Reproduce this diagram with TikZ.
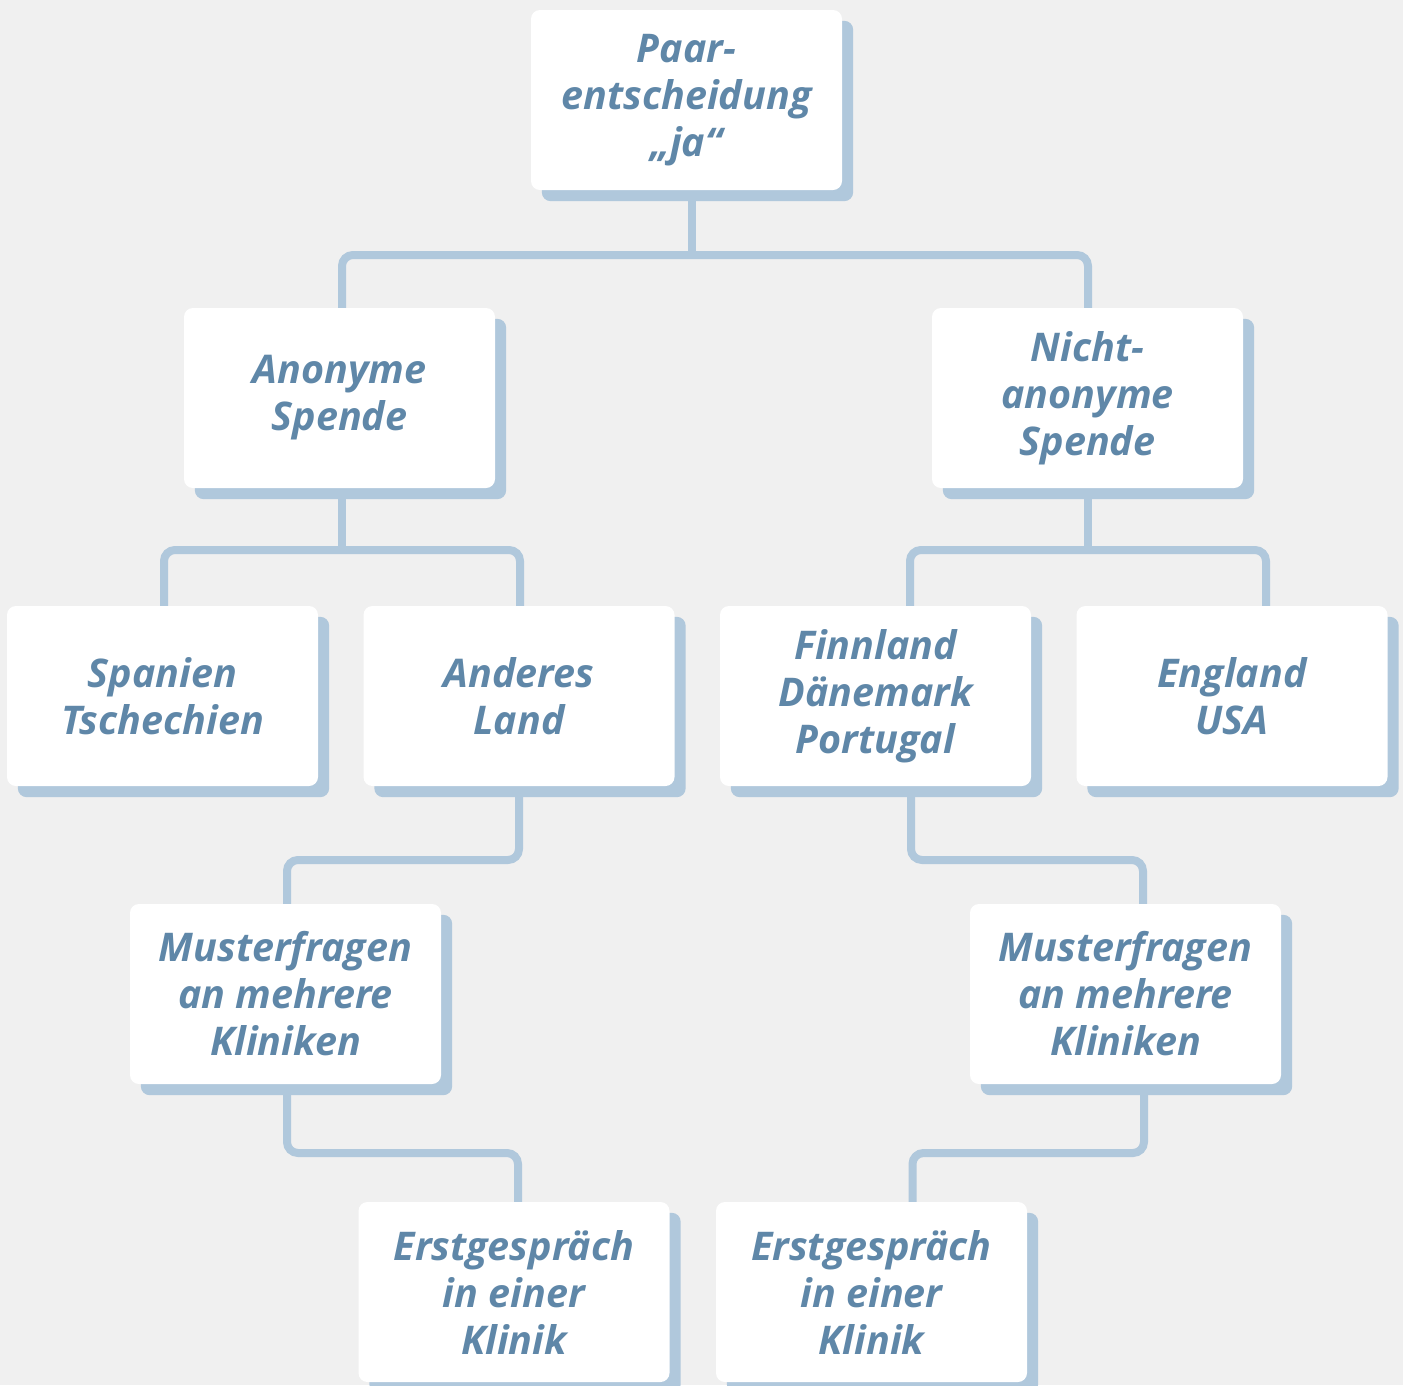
\documentclass[tikz,border=0pt]{standalone}
\usepackage{fontspec}
\setmainfont{Open Sans}
\usetikzlibrary{backgrounds}
\definecolor{bgc}{HTML}{F0F0F0}
\definecolor{txtc}{HTML}{5F87A8}
\definecolor{shc}{HTML}{B0C8DC}
\tikzset{
  box/.style={fill=white, rounded corners=9pt, minimum width=311pt, minimum height=180pt,
    inner sep=0pt, align=center, text=txtc,
    font=\fontsize{39.5}{47}\selectfont\bfseries\itshape},
  conn/.style={draw=shc, line width=8pt, rounded corners=11pt},
}
\begin{document}
\begin{tikzpicture}[x=1pt,y=-1pt]
\useasboundingbox (0,0) rectangle (1403,1385);

\node[box] (top) at (686.5,100) {Paar-\\entscheidung\\„ja“};
\node[box] (anon) at (339.5,398) {Anonyme\\Spende};
\node[box] (nicht) at (1087.5,398) {Nicht-\\anonyme\\Spende};
\node[box] (spanien) at (162.5,696) {Spanien\\Tschechien};
\node[box] (anderes) at (519,696) {Anderes\\Land};
\node[box] (finn) at (875.5,696) {Finnland\\Dänemark\\Portugal};
\node[box] (england) at (1232,696) {England\\USA};
\node[box] (musterL) at (285.5,994) {Musterfragen\\an mehrere\\Kliniken};
\node[box] (musterR) at (1125.5,994) {Musterfragen\\an mehrere\\Kliniken};
\node[box] (erstL) at (514,1292) {Erstgespräch\\in einer\\Klinik};
\node[box] (erstR) at (871.5,1292) {Erstgespräch\\in einer\\Klinik};

\coordinate (b1) at (692,255);
\coordinate (b2) at (342,550);
\coordinate (b3) at (1088,550);
\coordinate (b4) at (400,860);
\coordinate (b5) at (1000,860);
\coordinate (b6) at (400,1153);
\coordinate (b7) at (1000,1153);

\begin{scope}[on background layer]
  \fill[bgc] (0,0) rectangle (1403,1385);
  \draw[conn] ([xshift=5.5pt]top.south) -- (b1);
  \draw[conn] ([xshift=2.5pt]anon.north) |- (b1) -| ([xshift=0.5pt]nicht.north);
  \draw[conn] ([xshift=2.5pt]anon.south) -- (b2);
  \draw[conn] ([xshift=1.5pt]spanien.north) |- (b2) -| ([xshift=1pt]anderes.north);
  \draw[conn] ([xshift=0.5pt]nicht.south) -- (b3);
  \draw[conn] ([xshift=34.5pt]finn.north) |- (b3) -| ([xshift=34pt]england.north);
  \draw[conn] (anderes.south) |- (b4) -| ([xshift=1.5pt]musterL.north);
  \draw[conn] ([xshift=35.5pt]finn.south) |- (b5) -| ([xshift=17.5pt]musterR.north);
  \draw[conn] ([xshift=1.5pt]musterL.south) |- (b6) -| ([xshift=4pt]erstL.north);
  \draw[conn] ([xshift=18.5pt]musterR.south) |- (b7) -| ([xshift=41pt]erstR.north);
  \foreach \n in {top,anon,nicht,spanien,anderes,finn,england,musterL,musterR,erstL,erstR}
    \fill[shc, rounded corners=9pt] ([shift={(11pt,-11pt)}]\n.south west) rectangle ([shift={(11pt,-11pt)}]\n.north east);
\end{scope}
\end{tikzpicture}
\end{document}
